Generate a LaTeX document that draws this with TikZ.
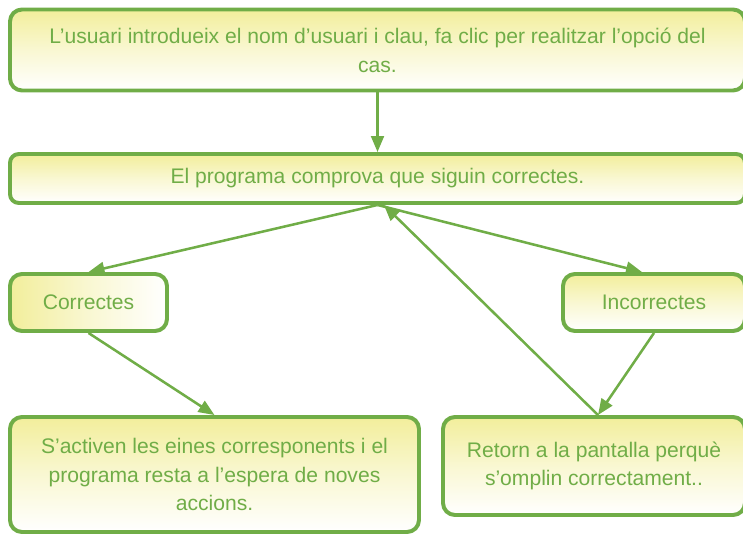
\documentclass[tikz,border=0pt]{standalone}
\usepackage{fontspec}
\setmainfont{Liberation Sans}
\usetikzlibrary{arrows.meta}
\definecolor{boxgreen}{RGB}{112,173,71}
\definecolor{boxyellow}{RGB}{242,238,155}
\tikzset{
	stepbox/.style={draw=boxgreen, line width=2.8pt, rounded corners=0.3cm,
		top color=boxyellow, bottom color=white, middle color=boxyellow!45, text=boxgreen, align=center,
		font=\fontsize{15}{20.5}\selectfont, inner sep=0pt},
	flow/.style={draw=boxgreen, line width=1.8pt, -{Triangle[length=0.4cm,width=0.32cm]}}
}
\begin{document}
\begin{tikzpicture}
	\useasboundingbox (0,0) rectangle (18.575,13.325);
	\clip (0,0) rectangle (18.575,13.325);
	% boxes
	\node[stepbox, minimum width=18.375cm, minimum height=2.025cm] (usuari) at (9.4375,12.075) {L’usuari introdueix el nom d’usuari i clau, fa clic per realitzar l’opció del\\cas.};
	\node[stepbox, rounded corners=0.22cm, minimum width=18.375cm, minimum height=1.225cm] (comprova) at (9.4375,8.8625) {El programa comprova que siguin correctes.};
	\node[stepbox, left color=boxyellow, right color=white, middle color=boxyellow!45, minimum width=3.925cm, minimum height=1.425cm] (correctes) at (2.2125,5.7625) {Correctes};
	\node[stepbox, minimum width=4.55cm, minimum height=1.425cm] (incorrectes) at (16.35,5.7625) {Incorrectes};
	\node[stepbox, minimum width=10.225cm, minimum height=2.875cm] (activen) at (5.3625,1.4625) {S’activen les eines corresponents i el\\programa resta a l’espera de noves\\accions.};
	\node[stepbox, minimum width=7.55cm, minimum height=2.45cm] (retorn) at (14.85,1.675) {Retorn a la pantalla perquè\\s’omplin correctament..};
	% arrows
	\draw[flow] (usuari.south) -- (comprova.north);
	\draw[flow] (comprova.south) -- (correctes.north);
	\draw[flow] (comprova.south) -- ([xshift=-0.3cm]incorrectes.north);
	\draw[flow] (correctes.south) -- (activen.north);
	\draw[flow] (incorrectes.south) -- ([xshift=0.1cm]retorn.north);
	\draw[flow] ([xshift=0.1cm]retorn.north) -- ([xshift=0.16cm]comprova.south);
\end{tikzpicture}
\end{document}
